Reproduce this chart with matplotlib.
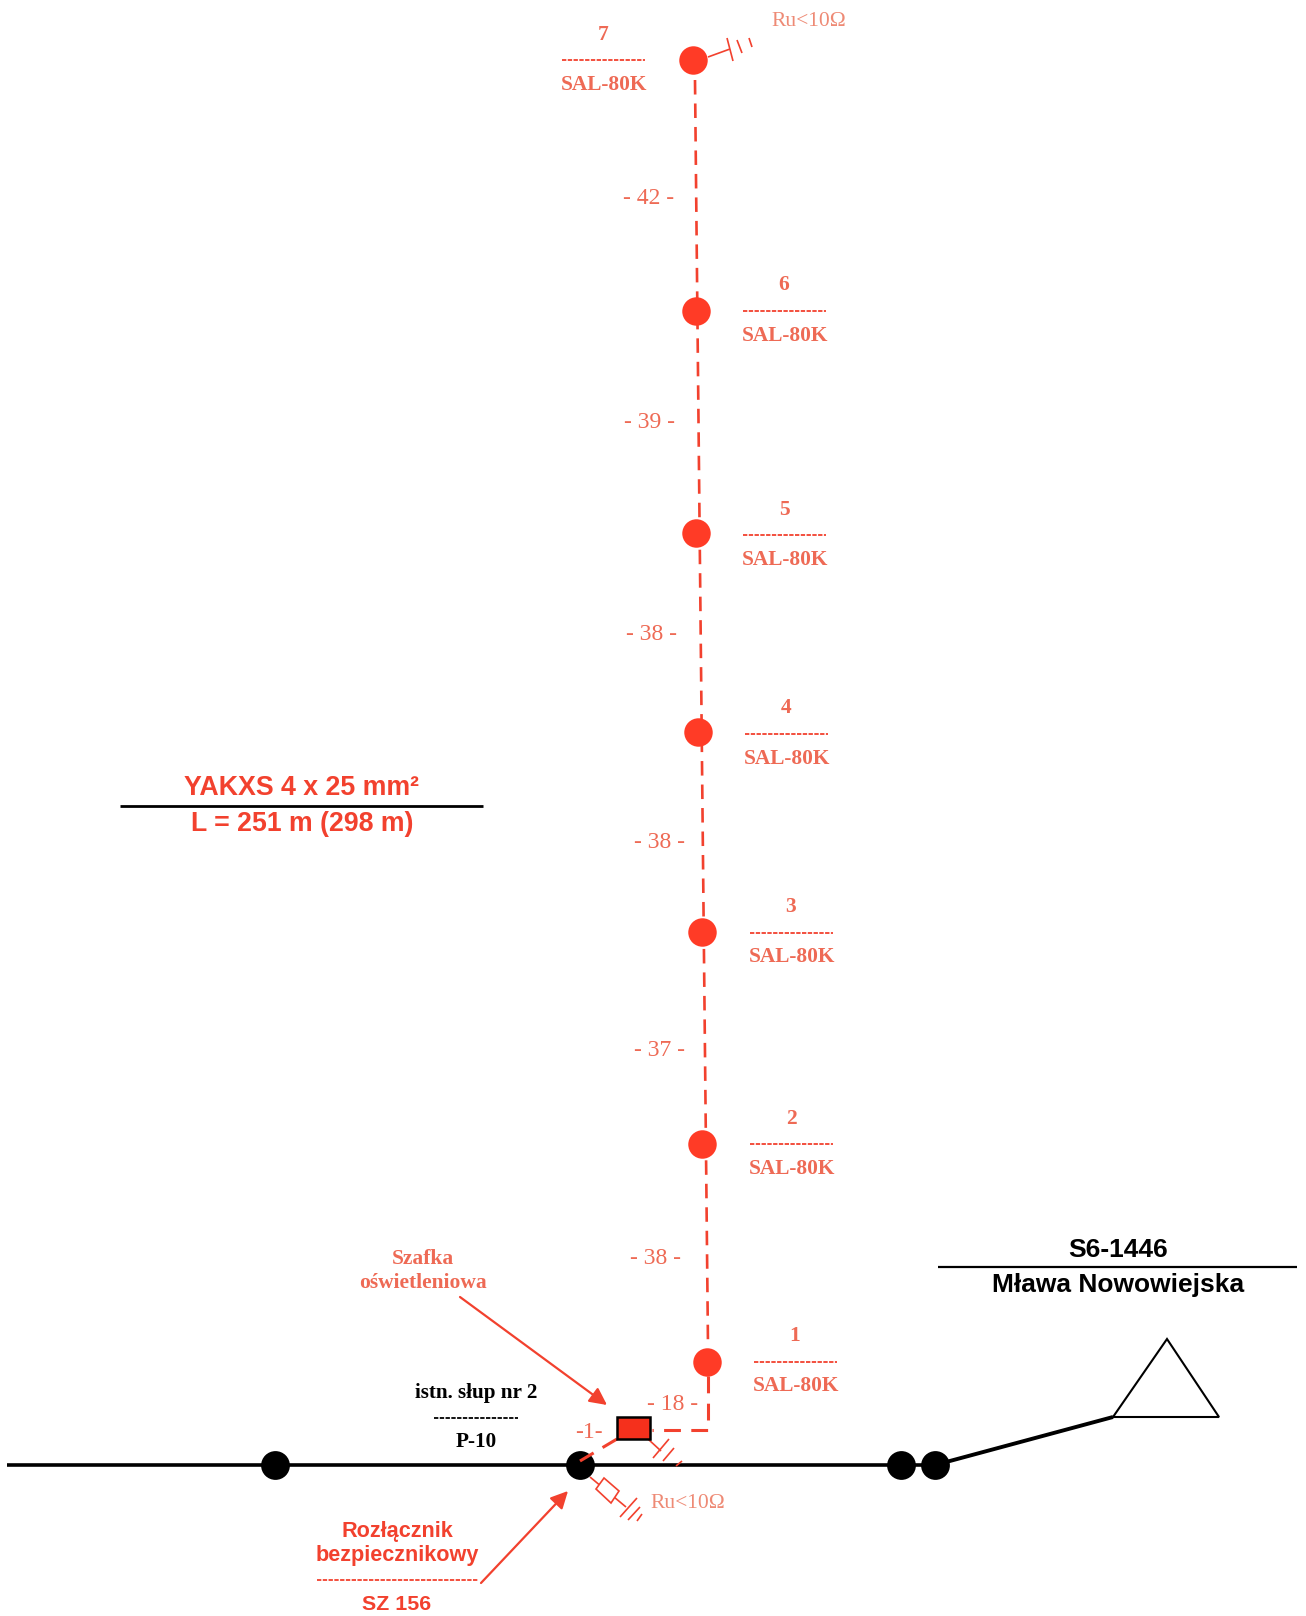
# coding utf-8
# Lighting cable route sketch

import matplotlib
matplotlib.use('Agg')
import matplotlib.pyplot as plt
from matplotlib.patches import Polygon, Rectangle

RED = '#f2412e'
SOFT = '#ee6a55'
BLACK = '#000000'
SERIF = 'Liberation Serif'
SANS = 'Liberation Sans'

# lighting poles, bottom to top
pole_x = [707, 702, 702, 698, 696, 696, 693]
pole_y = [1362, 1144, 932, 732, 533, 311, 60]
pole_names = ['1', '2', '3', '4', '5', '6', '7']
pole_type = 'SAL-80K'
label_x = [795, 791, 791, 786, 784, 784, 603]
label_num_y = [1336, 1119, 907, 708, 510, 285, 35]
label_dash_y = [1362, 1144, 933, 734, 535, 311, 60]
label_type_y = [1386, 1169, 957, 759, 560, 336, 85]

# span lengths
span_labels = ['- 42 -', '- 39 -', '- 38 -', '- 38 -', '- 37 -', '- 38 -', '- 18 -', '-1-']
span_x = [649, 649, 652, 659, 660, 655, 673, 589]
span_y = [198, 421, 634, 841, 1049, 1257, 1403, 1431]

# overhead line
line_poles_x = [275, 580, 901, 935]
line_y = 1465
line_start = 7
triangle_x = [1167, 1113, 1219]
triangle_y = [1339, 1417, 1417]

fig = plt.figure(figsize=(13.06, 16.16), dpi=100)
ax = fig.add_axes([0, 0, 1, 1])
ax.set_xlim(0, 1306)
ax.set_ylim(1616, 0)
ax.axis('off')


def segment(x0, y0, x1, y1, color=RED, lw=1.2, **kw):
    ax.plot([x0, x1], [y0, y1], color=color, lw=lw, solid_capstyle='butt', **kw)


def dashed_rule(x0, x1, y, color=RED):
    ax.plot([x0, x1], [y, y], color=color, lw=1.3, dashes=(2.4, 0.8), dash_capstyle='butt')


# black line, feed and transformer
ax.plot([line_start, line_poles_x[-1]], [line_y, line_y], color=BLACK, lw=2.6, solid_capstyle='butt')
segment(line_poles_x[-1], line_y, triangle_x[1], triangle_y[1], BLACK, 2.8)
ax.add_patch(Polygon(list(zip(triangle_x, triangle_y)), closed=True, fill=False, ec=BLACK, lw=1.5))
ax.scatter(line_poles_x, [line_y] * 4, s=430, color=BLACK, zorder=4, linewidths=0)

# cable
ax.plot([695, 708], [80, 1346], color=RED, lw=1.9, dashes=(5.5, 3.4), dash_capstyle='butt')
ax.plot([708, 708, 652], [1376, 1430, 1430], color=RED, lw=2.2, dashes=(5.5, 3.4), dash_capstyle='butt')
ax.plot([617, 580], [1439, 1461], color=RED, lw=2.2, dashes=(5.5, 3.4), zorder=5, dash_capstyle='butt')

ax.scatter(pole_x, pole_y, s=420, color='#ff3b26', zorder=4, linewidths=0)

# cabinet
ax.add_patch(Rectangle((617, 1417), 33, 22, fc='#f5301c', ec=BLACK, lw=1.8, zorder=5))

# earthing at the cabinet
segment(648, 1439, 661, 1451)
segment(653, 1458, 669, 1439)
segment(663, 1461, 674, 1448)
segment(676, 1466, 682, 1461)

# fuse switch earthing
segment(590, 1477, 626, 1507)
ax.add_patch(Polygon([(604, 1478), (619, 1491), (611, 1503), (596, 1489)], closed=True,
                     fc='white', ec=RED, lw=1.2, zorder=3))
segment(620, 1517, 637, 1498)
segment(628, 1520, 640, 1507)
segment(637, 1521, 642, 1514)

# top pole earthing
segment(708, 57, 730, 49)
segment(727, 38, 733, 61)
segment(737, 40, 742, 53)
segment(749, 38, 752, 47)

# arrows
ax.annotate('', xy=(607, 1405), xytext=(460, 1297),
            arrowprops=dict(arrowstyle='-|>', color=RED, lw=1.6, mutation_scale=26, shrinkA=0, shrinkB=0))
ax.annotate('', xy=(568, 1491), xytext=(481, 1583),
            arrowprops=dict(arrowstyle='-|>', color=RED, lw=1.6, mutation_scale=26, shrinkA=0, shrinkB=0))

# pole labels
for i in range(len(pole_names)):
    ax.text(label_x[i], label_num_y[i], pole_names[i], color=SOFT, family=SERIF, fontweight='bold',
            fontsize=15.5, ha='center', va='center')
    dashed_rule(label_x[i] - 41, label_x[i] + 42, label_dash_y[i])
    ax.text(label_x[i] + 1, label_type_y[i], pole_type, color=SOFT, family=SERIF, fontweight='bold',
            fontsize=15.4, ha='center', va='center')

for i in range(len(span_labels)):
    ax.text(span_x[i], span_y[i] + 1, span_labels[i], color=SOFT, family=SERIF,
            fontsize=17, ha='center', va='center')

ax.text(809, 21, 'Ru<10Ω', color='#ee8a75', family=SERIF, fontsize=15.5, ha='center', va='center')
ax.text(688, 1503, 'Ru<10Ω', color='#ee8a75', family=SERIF, fontsize=15.5, ha='center', va='center')

# cable description
ax.text(302, 788, 'YAKXS 4 x 25 mm²', color=RED, family=SANS, fontweight='bold', fontsize=19.3,
        ha='center', va='center')
segment(120, 806, 483, 806, BLACK, 2)
ax.text(302, 824, 'L = 251 m (298 m)', color=RED, family=SANS, fontweight='bold', fontsize=19.2,
        ha='center', va='center')

# station
ax.text(1118, 1250, 'S6-1446', color=BLACK, family=SANS, fontweight='bold', fontsize=19, ha='center', va='center')
segment(938, 1267, 1297, 1267, BLACK, 1.6)
ax.text(1118, 1285, 'Mława Nowowiejska', color=BLACK, family=SANS, fontweight='bold', fontsize=19,
        ha='center', va='center')

# cabinet and switch notes
ax.text(423, 1259, 'Szafka', color=SOFT, family=SERIF, fontweight='bold', fontsize=15.5, ha='center', va='center')
ax.text(423, 1283, 'oświetleniowa', color=SOFT, family=SERIF, fontweight='bold', fontsize=15.5, ha='center', va='center')

ax.text(476, 1393, 'istn. słup nr 2', color=BLACK, family=SERIF, fontweight='bold', fontsize=15.2, ha='center', va='center')
dashed_rule(434, 518, 1418, BLACK)
ax.text(476, 1442, 'P-10', color=BLACK, family=SERIF, fontweight='bold', fontsize=15.2, ha='center', va='center')

ax.text(397, 1531, 'Rozłącznik', color=RED, family=SANS, fontweight='bold', fontsize=15.6, ha='center', va='center')
ax.text(397, 1556, 'bezpiecznikowy', color=RED, family=SANS, fontweight='bold', fontsize=15.6, ha='center', va='center')
dashed_rule(317, 478, 1580)
ax.text(397, 1605, 'SZ 156', color=RED, family=SANS, fontweight='bold', fontsize=15.4, ha='center', va='center')

fig.savefig('out.png', dpi=100, facecolor='white')
